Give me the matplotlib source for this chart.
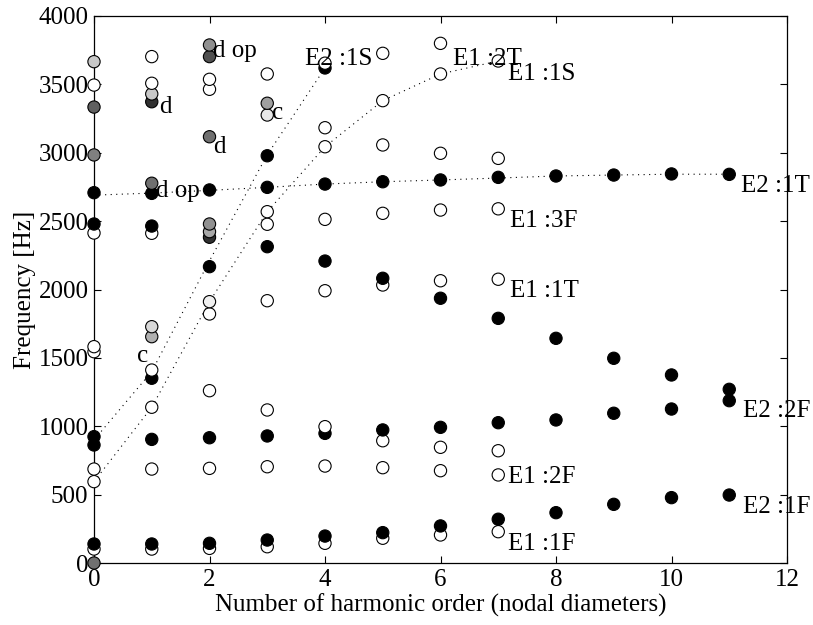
import matplotlib

matplotlib.use("Agg")
import matplotlib.pyplot as plt
import numpy as np

plt.rcParams["font.family"] = ["Liberation Serif", "DejaVu Serif"]
plt.rcParams["mathtext.fontset"] = "stix"

# harmonic order (nodal diameters) and frequency [Hz]
black_x = [0, 0, 0, 0, 0,
           1, 1, 1, 1, 1,
           2, 2, 2, 2,
           3, 3, 3, 3, 3,
           4, 4, 4, 4, 4,
           5, 5, 5, 5,
           6, 6, 6, 6,
           7, 7, 7, 7,
           8, 8, 8, 8,
           9, 9, 9, 9,
           10, 10, 10, 10,
           11, 11, 11, 11]
black_y = [2708, 2479, 924, 863, 139,
           2703, 2464, 1351, 904, 139,
           2728, 2167, 916, 144,
           2978, 2747, 2313, 929, 168,
           3620, 2771, 2208, 948, 197,
           2788, 2082, 973, 222,
           2801, 1936, 992, 271,
           2820, 1789, 1026, 320,
           2830, 1643, 1046, 368,
           2837, 1497, 1095, 429,
           2845, 1375, 1126, 478,
           2842, 1270, 1187, 497]

white_x = [0, 0, 0, 0, 0, 0, 0,
           1, 1, 1, 1, 1, 1, 1,
           2, 2, 2, 2, 2, 2,
           3, 3, 3, 3, 3, 3, 3,
           4, 4, 4, 4, 4, 4, 4, 4,
           5, 5, 5, 5, 5, 5, 5, 5,
           6, 6, 6, 6, 6, 6, 6, 6,
           7, 7, 7, 7, 7, 7, 7]
white_y = [3495, 2413, 1582, 1545, 687, 595, 102,
           3703, 3508, 2411, 1411, 1139, 687, 102,
           3537, 3464, 1821, 1260, 692, 107,
           3576, 2569, 2477, 1918, 1119, 704, 119,
           3655, 3183, 3044, 2513, 1991, 997, 709, 144,
           3727, 3381, 3057, 2557, 2033, 894, 697, 181,
           3800, 3576, 2996, 2581, 2064, 846, 675, 205,
           3671, 2959, 2590, 2075, 821, 644, 229]

# measured / other modes drawn in grey tones
gray_x = [0, 0, 0, 0, 1, 1, 1, 1, 1, 2, 2, 2, 2, 2, 2, 2, 3, 3]
gray_y = [3666, 3334, 2984, 0, 3430, 3373, 2777, 1728, 1655,
          3788, 3703, 3117, 2479, 2423, 2382, 1911, 3362, 3276]

# dotted mode lines
line_1s_x = [0, 1, 2, 3, 4, 5, 6, 7]
line_1s_y = [595, 1139, 1911, 2569, 3044, 3381, 3576, 3671]
line_e2_1s_x = [0, 1, 2, 3, 4]
line_e2_1s_y = [900, 1400, 2210, 2985, 3620]
line_1t_x = [0, 1, 2, 3, 4, 5, 6, 7, 8, 9, 10, 11]
line_1t_y = [2690, 2705, 2725, 2747, 2771, 2788, 2801, 2815, 2830, 2837, 2843, 2843]

labels = ["d", "d op", "c", "d", "d op", "c",
          "E2 :1S", "E1 :2T", "E1 :1S", "E1 :3F", "E1 :1T", "E1 :2F", "E1 :1F",
          "E2 :1T", "E2 :2F", "E2 :1F"]
label_x = [1.13, 2.06, 3.08, 2.06, 1.08, 0.74,
           3.65, 6.22, 7.17, 7.2, 7.2, 7.17, 7.17,
           11.2, 11.24, 11.24]
label_y = [3291, 3698, 3244, 3000, 2679, 1472,
           3642, 3642, 3532, 2455, 1948, 583, 95,
           2715, 1070, 368]

GRAY_FILLS = ["#c8c8c8", "#606060", "#808080", "#707070", "#c8c8c8", "#303030",
              "#707070", "#d8d8d8", "#b0b0b0", "#909090", "#505050", "#707070",
              "#909090", "#a8a8a8", "#303030", "#f0f0f0", "#a0a0a0", "#e8e8e8"]


def main() -> None:
    fig = plt.figure(figsize=(8.13, 6.25), dpi=100)
    ax = fig.add_axes([94 / 813, 62 / 625, 693 / 813, 547 / 625])

    for xs, ys in [(line_1s_x, line_1s_y), (line_e2_1s_x, line_e2_1s_y), (line_1t_x, line_1t_y)]:
        ax.plot(xs, ys, color="black", linestyle=(0, (1, 4)), linewidth=0.8, zorder=1)

    xs = np.array(black_x + white_x + gray_x, dtype=float)
    ys = np.array(black_y + white_y + gray_y, dtype=float)
    fills = ["black"] * len(black_x) + ["white"] * len(white_x) + GRAY_FILLS
    order = np.argsort(ys, kind="stable")
    ax.scatter(xs[order], ys[order], s=78, c=[fills[i] for i in order],
               edgecolors="black", linewidths=0.8, zorder=3, clip_on=False)

    for text, tx, ty in zip(labels, label_x, label_y):
        ax.text(tx, ty, text, fontsize=18, ha="left", va="baseline", zorder=4)

    ax.set_xlim(0, 12)
    ax.set_ylim(0, 4000)
    ax.set_xticks(np.arange(0, 13, 2))
    ax.set_yticks(np.arange(0, 4001, 500))
    ax.tick_params(direction="in", top=True, right=True, length=5, width=0.8,
                   labelsize=18, pad=4)
    for spine in ax.spines.values():
        spine.set_linewidth(0.9)
    ax.set_xlabel("Number of harmonic order (nodal diameters)", fontsize=18, labelpad=2)
    ax.set_ylabel("Frequency [Hz]", fontsize=18, labelpad=2)

    fig.savefig("out.png", dpi=100)
    plt.close(fig)


if __name__ == "__main__":
    main()
